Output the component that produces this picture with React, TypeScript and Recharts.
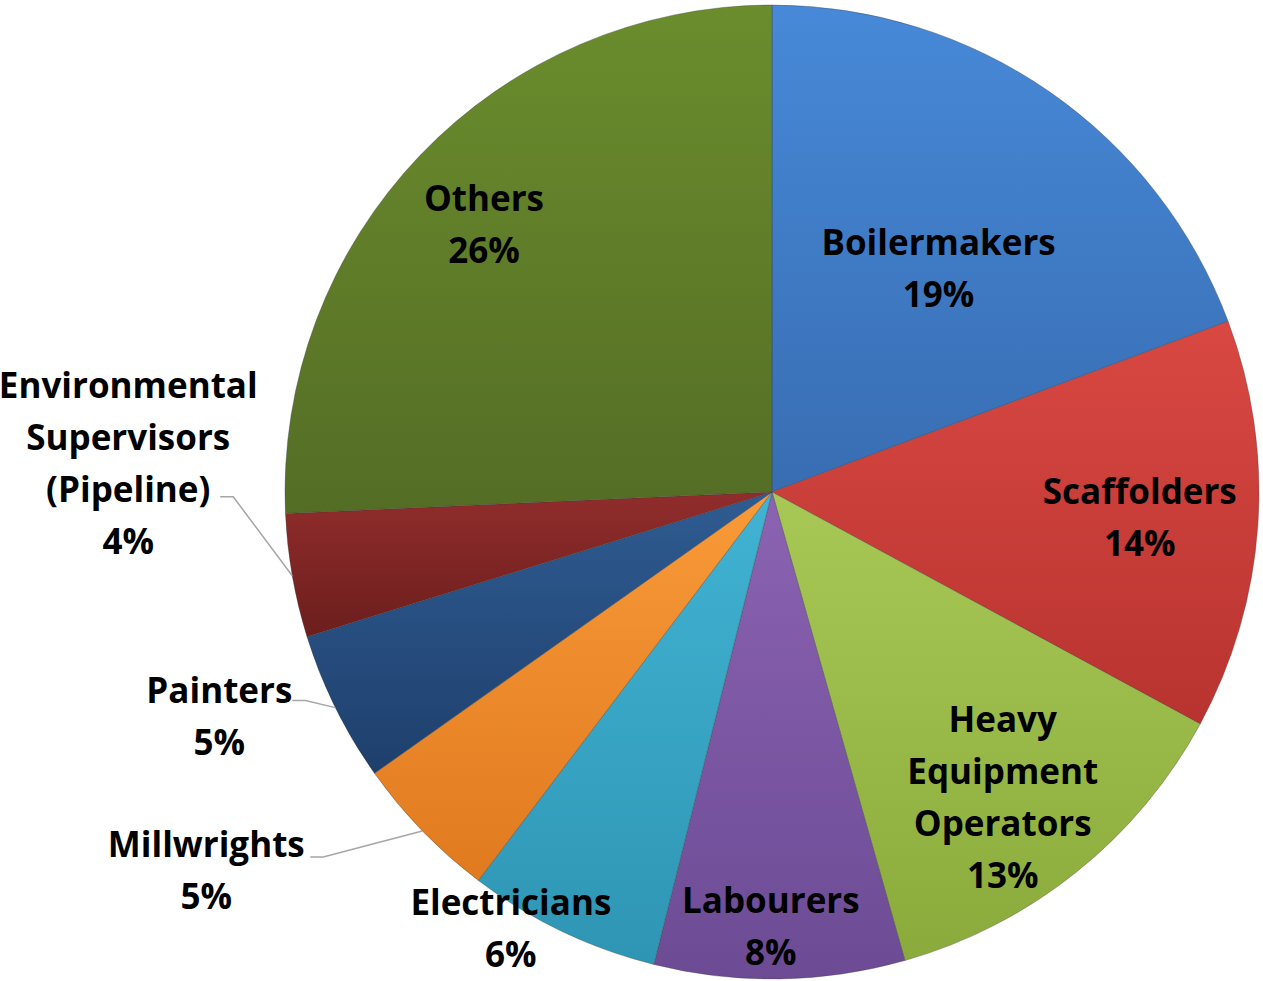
import { Cell, Pie, PieChart } from "recharts";

const NAMES = [
  "Boilermakers",
  "Scaffolders",
  "Heavy\nEquipment\nOperators",
  "Labourers",
  "Electricians",
  "Millwrights",
  "Painters",
  "Environmental\nSupervisors\n(Pipeline)",
  "Others",
];

const SHARES = [19.3, 13.6, 12.7, 8.3, 6.4, 4.9, 5.0, 4.1, 25.7];

const data = NAMES.map((name, i) => ({ name, value: SHARES[i] }));

// top / bottom shade of each slice
const FILLS = [
  ["#4789d8", "#386db2"],
  ["#d94843", "#b8332f"],
  ["#a8c856", "#8aab3b"],
  ["#8b63b2", "#6c4b94"],
  ["#41b3d3", "#2f95b4"],
  ["#f99a38", "#e07a1f"],
  ["#2f5c92", "#1e3f6c"],
  ["#912d2c", "#6c1e1d"],
  ["#6b8d2d", "#546d25"],
];

// label placement: radius factor along the mid angle plus a nudge,
// or an offset from the slice edge with a leader line for the small ones
type Place = {
  r?: number;
  dx?: number;
  dy?: number;
  out?: boolean;
  lead?: [number, number][];
};

const PLACES: Place[] = [
  { r: 0.575, dx: 7, dy: 5 },
  { r: 0.757, dx: 0, dy: -1 },
  { r: 0.784, dx: -8, dy: 6 },
  { r: 0.89, dx: -8, dy: 0 },
  { r: 1.0, dx: -51, dy: -4 },
  { out: true, dx: -216, dy: 38, lead: [[-99, 26], [-112, 26]] },
  { out: true, dx: -116, dy: 7, lead: [[-30, -7], [-43, -7]] },
  { out: true, dx: -164, dy: -114, lead: [[-59, -79], [-72, -79]] },
  { r: 0.81, dx: -3, dy: 4 },
];

const W = 1263;
const H = 981;
const CX = 772;
const CY = 492;
const R = 487;
const LINE = 52;
const RAD = Math.PI / 180;

const renderLabel = (props: any) => {
  const { midAngle, index, percent } = props;
  const cx = props.cx ?? CX;
  const cy = props.cy ?? CY;
  const outer = props.outerRadius ?? R;
  const p = PLACES[index];
  const cos = Math.cos(-midAngle * RAD);
  const sin = Math.sin(-midAngle * RAD);
  let x: number;
  let y: number;
  let leader: string | null = null;
  if (p.out) {
    const ex = cx + outer * cos;
    const ey = cy + outer * sin;
    x = ex + (p.dx ?? 0);
    y = ey + (p.dy ?? 0);
    const pts = [[ex, ey], ...(p.lead ?? []).map(([a, b]) => [ex + a, ey + b])];
    leader = pts.map((q, i) => `${i ? "L" : "M"}${q[0]},${q[1]}`).join(" ");
  } else {
    const rr = outer * (p.r ?? 0.6);
    x = cx + rr * cos + (p.dx ?? 0);
    y = cy + rr * sin + (p.dy ?? 0);
  }
  const lines = [...String(NAMES[index]).split("\n"), `${Math.round(percent * 100)}%`];
  const top = y - ((lines.length - 1) * LINE) / 2;
  return (
    <g key={`lbl-${index}`}>
      {leader && <path d={leader} fill="none" stroke="#a6a6a6" strokeWidth={1.5} />}
      <text
        textAnchor="middle"
        dominantBaseline="central"
        fontFamily="'Open Sans', sans-serif"
        fontWeight={700}
        fontSize={35}
        fill="#000"
      >
        {lines.map((t, i) => (
          <tspan key={i} x={x} y={top + i * LINE}>
            {t}
          </tspan>
        ))}
      </text>
    </g>
  );
};

export default function App() {
  return (
    <div style={{ position: "absolute", left: 0, top: 0, width: W, height: H, background: "#fff" }}>
      <PieChart width={W} height={H} margin={{ top: 0, right: 0, bottom: 0, left: 0 }}>
        <defs>
          {FILLS.map(([a, b], i) => (
            <linearGradient key={i} id={`slice-${i}`} x1="0" y1="0" x2="0" y2="1">
              <stop offset="0%" stopColor={a} />
              <stop offset="100%" stopColor={b} />
            </linearGradient>
          ))}
        </defs>
        <Pie
          data={data}
          dataKey="value"
          nameKey="name"
          cx={CX}
          cy={CY}
          outerRadius={R}
          startAngle={90}
          endAngle={-270}
          stroke="rgba(60,60,60,0.35)"
          strokeWidth={1}
          label={renderLabel}
          labelLine={false}
          isAnimationActive={false}
        >
          {data.map((d, i) => (
            <Cell key={d.name} fill={`url(#slice-${i})`} />
          ))}
        </Pie>
      </PieChart>
    </div>
  );
}
